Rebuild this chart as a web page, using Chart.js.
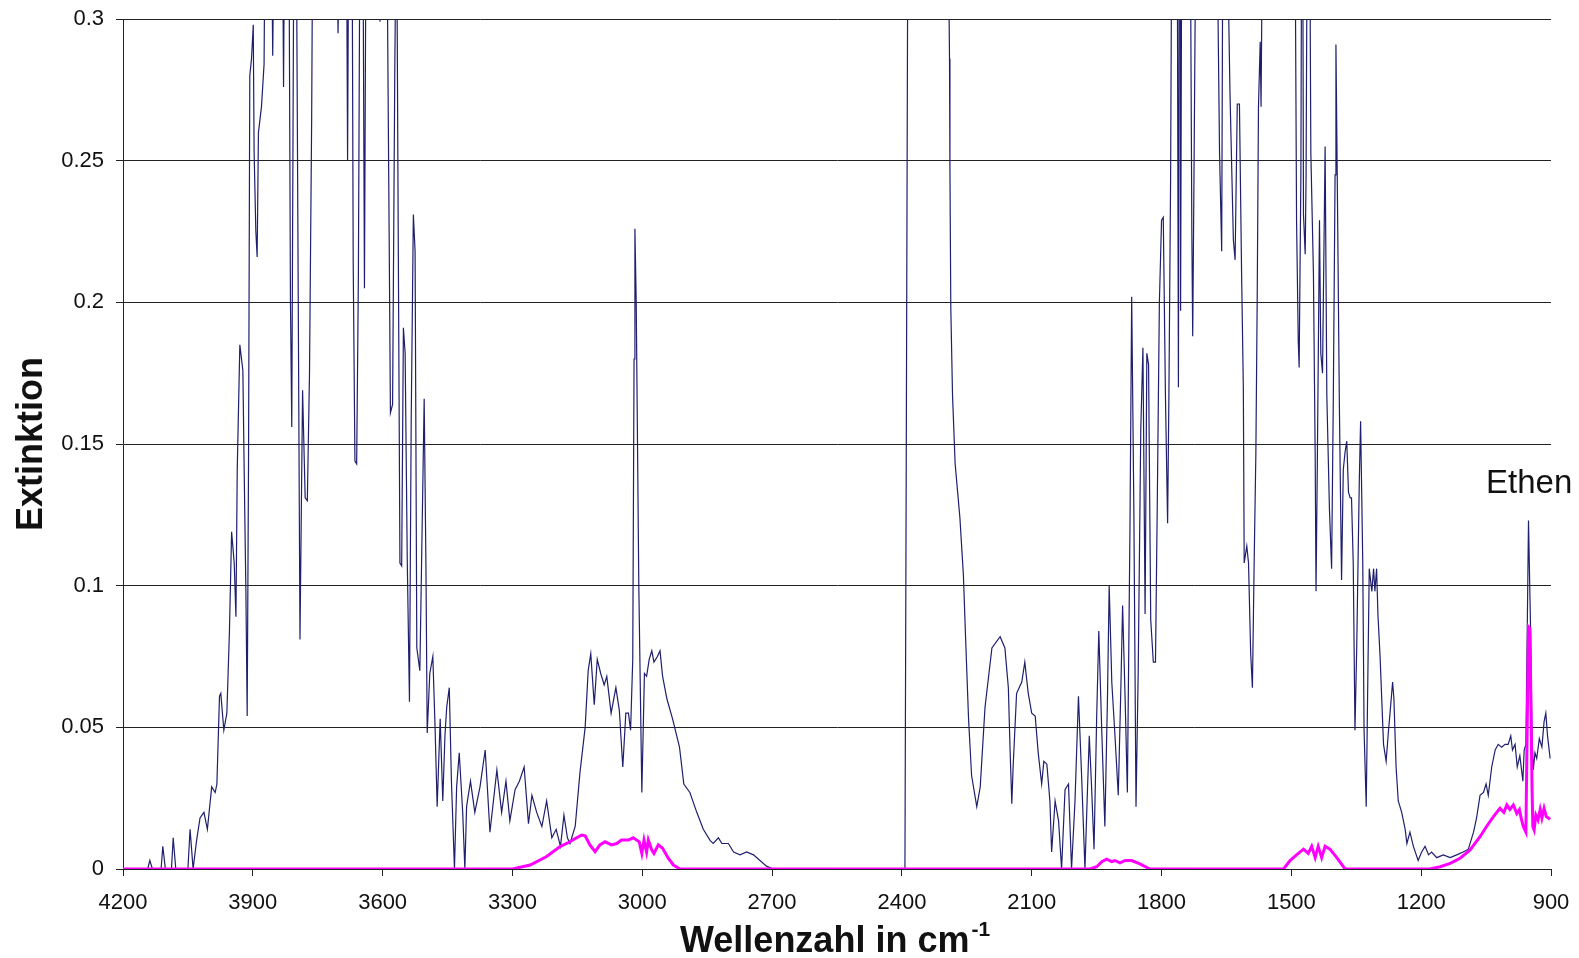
<!DOCTYPE html>
<html>
<head>
<meta charset="utf-8">
<title>IR-Spektrum Ethen</title>
<script src="https://cdn.jsdelivr.net/npm/chart.js@4.4.1/dist/chart.umd.min.js"></script>
<style>
  html, body { margin: 0; padding: 0; background: #fff; }
  #wrap { width: 1579px; height: 958px; position: relative; }
</style>
</head>
<body>
<div id="wrap"><canvas id="spektrum"></canvas></div>
<script>
// Achsen
const xTicks = [4200, 3900, 3600, 3300, 3000, 2700, 2400, 2100, 1800, 1500, 1200, 900]
const yTicks = [0, 0.05, 0.1, 0.15, 0.2, 0.25, 0.3]

// Hintergrund (Wasser / CO2), Wellenzahl in cm-1 und Extinktion
// Werte ueber 0.3 laufen oben aus dem Bild
const bgWave = [
  4200, 4150, 4143, 4138, 4132, 4112, 4108, 4102, 4088, 4084,
  4078, 4050, 4045, 4038, 4030, 4022, 4013, 4005, 3995, 3987,
  3983, 3977, 3974, 3967, 3960, 3954, 3949, 3943, 3939, 3936,
  3930, 3923, 3920, 3916, 3913, 3910, 3907, 3903, 3899, 3897,
  3893, 3890, 3887, 3880, 3874, 3871, 3858, 3854, 3850, 3832,
  3829, 3826, 3817, 3813, 3810, 3806, 3803, 3800, 3791, 3785,
  3779, 3774, 3769, 3764, 3761, 3708, 3703, 3699, 3684, 3681,
  3678, 3671, 3668, 3664, 3660, 3656, 3652, 3646, 3642, 3638,
  3609, 3606, 3603, 3591, 3585, 3582, 3577, 3572, 3568, 3564,
  3560, 3556, 3552, 3548, 3543, 3538, 3534, 3529, 3525, 3521,
  3514, 3510, 3504, 3500, 3497, 3491, 3484, 3479, 3474, 3467,
  3461, 3456, 3452, 3446, 3441, 3434, 3429, 3423, 3415, 3410,
  3406, 3397, 3387, 3375, 3363, 3352, 3336, 3325, 3315, 3306,
  3294, 3284, 3273, 3263, 3255, 3244, 3232, 3221, 3209, 3199,
  3189, 3181, 3173, 3167, 3155, 3144, 3132, 3125, 3119, 3111,
  3104, 3096, 3088, 3082, 3072, 3061, 3053, 3045, 3038, 3032,
  3027, 3022, 3019, 3017, 3014, 3008, 3001, 2995, 2990, 2984,
  2978, 2973, 2965, 2959, 2953, 2943, 2930, 2914, 2904, 2890,
  2874, 2859, 2843, 2836, 2824, 2816, 2801, 2789, 2774, 2759,
  2743, 2728, 2713, 2697, 2393, 2390, 2386, 2294, 2290, 2289,
  2287, 2283, 2277, 2266, 2258, 2252, 2246, 2239, 2227, 2219,
  2208, 2192, 2173, 2162, 2154, 2150, 2146, 2143, 2135, 2123,
  2116, 2108, 2100, 2092, 2085, 2077, 2072, 2065, 2058, 2054,
  2046, 2038, 2031, 2023, 2015, 2008, 2000, 1992, 1985, 1977,
  1972, 1967, 1962, 1956, 1950, 1945, 1938, 1931, 1925, 1921,
  1915, 1908, 1900, 1894, 1890, 1884, 1879, 1873, 1869, 1864,
  1859, 1854, 1848, 1843, 1838, 1834, 1830, 1825, 1819, 1814,
  1810, 1805, 1800, 1796, 1791, 1786, 1783, 1779, 1776, 1764,
  1761, 1759, 1757, 1756, 1753, 1734, 1730, 1728, 1725, 1720,
  1673, 1666, 1661, 1658, 1650, 1642, 1634, 1630, 1625, 1620,
  1615, 1611, 1609, 1603, 1599, 1594, 1590, 1586, 1582, 1579,
  1576, 1572, 1570, 1566, 1492, 1488, 1484, 1482, 1478, 1476,
  1474, 1472, 1468, 1466, 1463, 1458, 1455, 1449, 1445, 1443,
  1440, 1435, 1432, 1428, 1422, 1418, 1412, 1407, 1403, 1399,
  1397, 1394, 1389, 1384, 1380, 1376, 1372, 1368, 1364, 1361,
  1357, 1353, 1349, 1343, 1340, 1335, 1332, 1327, 1324, 1320,
  1314, 1310, 1307, 1303, 1300, 1295, 1287, 1281, 1276, 1272,
  1266, 1263, 1258, 1253, 1245, 1237, 1233, 1226, 1218, 1207,
  1199, 1191, 1183, 1176, 1164, 1149, 1133, 1118, 1103, 1091,
  1079, 1072, 1064, 1056, 1050, 1045, 1037, 1029, 1022, 1014,
  1006, 999, 993, 989, 983, 978, 972, 965, 962, 958,
  955, 952, 947, 944, 941, 937, 933, 927, 921, 916,
  912, 908, 902
]
const bgExt = [
  0, 0, 0, 0.003, 0, 0, 0.008, 0, 0, 0.011,
  0, 0, 0.014, 0, 0.010, 0.018, 0.020, 0.014, 0.029, 0.027,
  0.030, 0.061, 0.062, 0.049, 0.055, 0.084, 0.119, 0.108, 0.089, 0.141,
  0.185, 0.176, 0.141, 0.098, 0.054, 0.141, 0.280, 0.286, 0.298, 0.253,
  0.225, 0.216, 0.260, 0.269, 0.284, 0.35, 0.35, 0.287, 0.35, 0.35,
  0.276, 0.35, 0.35, 0.200, 0.156, 0.30, 0.35, 0.35, 0.081, 0.169,
  0.131, 0.130, 0.175, 0.265, 0.35, 0.35, 0.295, 0.35, 0.35, 0.250,
  0.35, 0.35, 0.214, 0.144, 0.143, 0.210, 0.35, 0.35, 0.205, 0.35,
  0.35, 0.299, 0.35, 0.35, 0.225, 0.161, 0.164, 0.280, 0.35, 0.225,
  0.108, 0.107, 0.191, 0.182, 0.108, 0.059, 0.158, 0.231, 0.218, 0.078,
  0.070, 0.108, 0.166, 0.108, 0.048, 0.069, 0.075, 0.051, 0.022, 0.053,
  0.024, 0.047, 0.057, 0.064, 0.031, 0, 0.029, 0.041, 0.020, 0,
  0.022, 0.031, 0.020, 0.029, 0.042, 0.013, 0.035, 0.020, 0.031, 0.017,
  0.028, 0.031, 0.036, 0.016, 0.026, 0.020, 0.015, 0.024, 0.011, 0.014,
  0.008, 0.019, 0.011, 0.009, 0.015, 0.034, 0.050, 0.070, 0.076, 0.058,
  0.074, 0.069, 0.065, 0.068, 0.055, 0.064, 0.056, 0.036, 0.055, 0.055,
  0.049, 0.074, 0.180, 0.226, 0.200, 0.100, 0.027, 0.069, 0.068, 0.074,
  0.077, 0.073, 0.075, 0.077, 0.068, 0.060, 0.053, 0.043, 0.030, 0.027,
  0.020, 0.014, 0.010, 0.009, 0.011, 0.009, 0.009, 0.006, 0.005, 0.006,
  0.005, 0.003, 0.001, 0, 0, 0.143, 0.35, 0.35, 0.286, 0.247,
  0.198, 0.167, 0.143, 0.124, 0.104, 0.078, 0.053, 0.033, 0.022, 0.029,
  0.057, 0.078, 0.082, 0.078, 0.064, 0.042, 0.023, 0.036, 0.062, 0.066,
  0.073, 0.062, 0.055, 0.054, 0.041, 0.030, 0.038, 0.037, 0.024, 0.006,
  0.024, 0.017, 0, 0.028, 0.030, 0, 0.024, 0.061, 0.034, 0,
  0.024, 0.047, 0.030, 0.007, 0.053, 0.084, 0.048, 0.015, 0.060, 0.100,
  0.066, 0.048, 0.026, 0.064, 0.093, 0.059, 0.027, 0.120, 0.202, 0.127,
  0.022, 0.069, 0.155, 0.184, 0.090, 0.182, 0.178, 0.088, 0.073, 0.073,
  0.127, 0.200, 0.229, 0.230, 0.167, 0.122, 0.167, 0.245, 0.35, 0.35,
  0.170, 0.35, 0.35, 0.197, 0.35, 0.35, 0.225, 0.188, 0.245, 0.35,
  0.35, 0.253, 0.218, 0.35, 0.35, 0.275, 0.222, 0.215, 0.270, 0.270,
  0.210, 0.170, 0.108, 0.114, 0.108, 0.076, 0.064, 0.108, 0.147, 0.200,
  0.269, 0.292, 0.269, 0.35, 0.35, 0.229, 0.186, 0.177, 0.245, 0.35,
  0.35, 0.231, 0.217, 0.245, 0.35, 0.35, 0.253, 0.210, 0.147, 0.098,
  0.143, 0.229, 0.182, 0.175, 0.255, 0.167, 0.127, 0.106, 0.167, 0.245,
  0.291, 0.245, 0.163, 0.102, 0.141, 0.147, 0.151, 0.133, 0.131, 0.131,
  0.108, 0.049, 0.078, 0.137, 0.158, 0.108, 0.049, 0.022, 0.059, 0.106,
  0.098, 0.106, 0.098, 0.106, 0.090, 0.075, 0.044, 0.038, 0.048, 0.055,
  0.066, 0.060, 0.036, 0.024, 0.020, 0.014, 0.009, 0.013, 0.008, 0.003,
  0.006, 0.008, 0.005, 0.006, 0.004, 0.005, 0.004, 0.005, 0.006, 0.007,
  0.013, 0.018, 0.026, 0.027, 0.030, 0.026, 0.036, 0.042, 0.044, 0.043,
  0.044, 0.044, 0.047, 0.042, 0.044, 0.036, 0.040, 0.031, 0.042, 0.044,
  0.083, 0.123, 0.083, 0.048, 0.035, 0.041, 0.039, 0.046, 0.043, 0.052,
  0.055, 0.047, 0.039
]

// Ethen
const ethenWave = [
  4200, 3300, 3259, 3221, 3190, 3167, 3152, 3140, 3132, 3121,
  3109, 3098, 3086, 3071, 3059, 3048, 3032, 3021, 3007, 3001,
  2996, 2990, 2986, 2978, 2973, 2963, 2953, 2940, 2928, 2913,
  1965, 1950, 1938, 1927, 1915, 1908, 1896, 1884, 1869, 1850,
  1827, 1518, 1503, 1488, 1472, 1461, 1453, 1445, 1438, 1430,
  1422, 1411, 1395, 1376, 1180, 1156, 1133, 1110, 1087, 1064,
  1049, 1033, 1018, 1009, 1002, 995, 987, 979, 973, 968,
  964, 958, 955, 952, 949, 947, 944, 942, 939, 935,
  930, 925, 921, 916, 911, 906, 902
]
const ethenExt = [
  0, 0, 0.0014, 0.0044, 0.0079, 0.0096, 0.011, 0.012, 0.0117, 0.0085,
  0.0061, 0.0085, 0.0096, 0.0085, 0.009, 0.0102, 0.0102, 0.011, 0.0096, 0.0055,
  0.0102, 0.006, 0.0102, 0.0067, 0.0055, 0.0085, 0.0073, 0.0038, 0.0014, 0,
  0, 0.0008, 0.0026, 0.0035, 0.0026, 0.003, 0.0022, 0.003, 0.003, 0.0018,
  0, 0, 0.003, 0.005, 0.007, 0.0055, 0.008, 0.004, 0.008, 0.004,
  0.008, 0.007, 0.004, 0, 0, 0.0008, 0.002, 0.0038, 0.0067, 0.0114,
  0.015, 0.0185, 0.0214, 0.020, 0.0226, 0.021, 0.0226, 0.0196, 0.021, 0.0173,
  0.015, 0.013, 0.050, 0.0855, 0.085, 0.0655, 0.030, 0.015, 0.0138, 0.019,
  0.0173, 0.021, 0.018, 0.0214, 0.0185, 0.018, 0.0175
]

const fontFamily = '"Liberation Sans", Arial, sans-serif'
Chart.defaults.font.family = fontFamily

function toPoints(wave, ext) {
    return wave.map((w, i) => ({ x: w, y: ext[i] }))
}

// Beschriftungen, die Chart.js so nicht setzt (Hochzahl, "Ethen")
const textPlugin = {
    id: 'texte',
    afterDraw(chart) {
        let ctx = chart.ctx
        ctx.save()
        ctx.fillStyle = '#111'
        ctx.textAlign = 'left'
        ctx.textBaseline = 'alphabetic'

        ctx.font = 'bold 36px ' + fontFamily
        let main = 'Wellenzahl in cm'
        ctx.fillText(main, 680, 952)
        let w = ctx.measureText(main).width
        ctx.font = 'bold 21px ' + fontFamily
        ctx.fillText('-1', 680 + w + 2, 936)

        ctx.font = '33px ' + fontFamily
        ctx.fillText('Ethen', 1486, 493)
        ctx.restore()
    }
}

new Chart(document.getElementById('spektrum'), {
    type: 'line',
    data: {
        datasets: [{
            label: 'Ethen',
            data: toPoints(ethenWave, ethenExt),
            borderColor: '#ff00ff',
            borderWidth: 3,
            pointRadius: 0,
            tension: 0,
            order: 0
        }, {
            label: 'Hintergrund',
            data: toPoints(bgWave, bgExt),
            borderColor: '#1f1f6e',
            borderWidth: 1.2,
            pointRadius: 0,
            tension: 0,
            order: 1
        }]
    },
    options: {
        responsive: true,
        maintainAspectRatio: false,
        animation: false,
        layout: {
            padding: { left: 0, right: 28, top: 19, bottom: 0 }
        },
        plugins: {
            legend: { display: false },
            tooltip: { enabled: false }
        },
        scales: {
            x: {
                type: 'linear',
                reverse: true,
                min: 900,
                max: 4200,
                afterBuildTicks: s => { s.ticks = xTicks.map(v => ({ value: v })) },
                afterFit: s => {
                    s.height = 89
                    s.paddingLeft = 0
                    s.paddingRight = 0
                },
                ticks: {
                    color: '#111',
                    font: { size: 22 },
                    padding: 14,
                    maxRotation: 0,
                    autoSkip: false,
                    callback: v => String(v)
                },
                grid: {
                    drawOnChartArea: false,
                    drawTicks: true,
                    tickLength: 7,
                    color: '#222'
                },
                border: { display: true, color: '#222', width: 1 }
            },
            y: {
                min: 0,
                max: 0.3,
                afterBuildTicks: s => { s.ticks = yTicks.map(v => ({ value: v })) },
                afterFit: s => {
                    s.width = 123
                    s.paddingTop = 0
                    s.paddingBottom = 0
                },
                ticks: {
                    color: '#111',
                    font: { size: 22 },
                    padding: 12,
                    callback: v => String(Math.round(v * 100) / 100)
                },
                grid: {
                    color: '#222',
                    lineWidth: 1,
                    tickLength: 7
                },
                border: { display: true, color: '#222', width: 1 },
                title: {
                    display: true,
                    text: 'Extinktion',
                    color: '#111',
                    font: { size: 36, weight: 'bold' },
                    padding: { top: 10, bottom: 0 }
                }
            }
        }
    },
    plugins: [textPlugin]
})
</script>
</body>
</html>
